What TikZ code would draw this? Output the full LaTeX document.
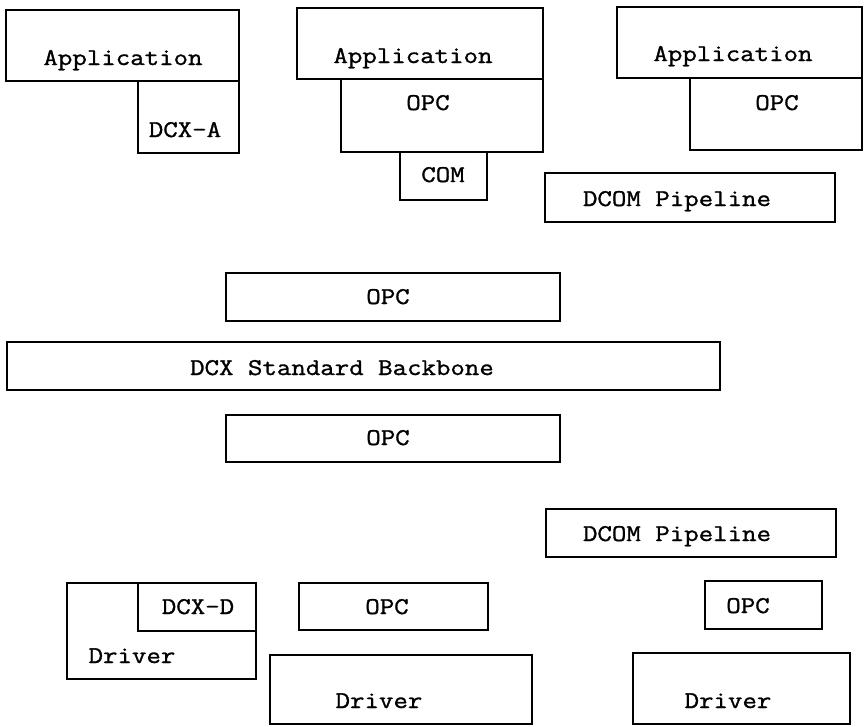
\documentclass[tikz,border=0pt]{standalone}
\usepackage{fontspec}
\newfontfamily\boxfont[FakeStretch=1.17, FakeBold=1.2]{Latin Modern Mono}
\tikzset{
  layer/.style={draw=black, line width=1.5pt, fill=none},
  lbl/.style={anchor=base, inner sep=0pt, text=black,
              font=\boxfont\fontsize{24}{28}\selectfont}
}
\begin{document}
\begin{tikzpicture}[x=1pt, y=-1pt]
  \useasboundingbox (0,0) rectangle (864,726);

  % client stack with DCX adapter
  \draw[layer] (6,10) rectangle (239,81);
  \draw[layer] (138,81) rectangle (239,153);
  \node[lbl] (app1) at (123,65) {Application};
  \node[lbl] (dcxa) at (185,137) {DCX-A};

  % local OPC client over COM
  \draw[layer] (297,8) rectangle (543,79);
  \draw[layer] (341,79) rectangle (543,152);
  \draw[layer] (400,152) rectangle (487,200);
  \node[lbl] (app2) at (413,63) {Application};
  \node[lbl] (opc2) at (428,110) {OPC};
  \node[lbl] (com) at (443,182) {COM};

  % remote OPC client over DCOM
  \draw[layer] (617,7) rectangle (862,78);
  \draw[layer] (690,78) rectangle (862,150);
  \draw[layer] (545,173) rectangle (835,222);
  \node[lbl] (app3) at (733,61) {Application};
  \node[lbl] (opc3) at (777,110) {OPC};
  \node[lbl] (dcom1) at (677,206) {DCOM Pipeline};

  % backbone with OPC interfaces
  \draw[layer] (226,273) rectangle (560,321);
  \draw[layer] (7,342) rectangle (720,390);
  \draw[layer] (226,415) rectangle (560,462);
  \node[lbl] (opctop) at (388,304) {OPC};
  \node[lbl] (backbone) at (342,375) {DCX Standard Backbone};
  \node[lbl] (opcbot) at (388,445) {OPC};

  % drivers
  \draw[layer] (546,509) rectangle (836,557);
  \node[lbl] (dcom2) at (677,541) {DCOM Pipeline};

  \draw[layer] (67,583) rectangle (256,679);
  \draw[layer] (138,583) rectangle (256,631);
  \node[lbl] (drv1) at (132,663) {Driver};
  \node[lbl] (dcxd) at (198,614) {DCX-D};

  \draw[layer] (299,583) rectangle (488,630);
  \draw[layer] (270,655) rectangle (532,724);
  \node[lbl] (opc4) at (387,614) {OPC};
  \node[lbl] (drv2) at (379,708) {Driver};

  \draw[layer] (705,581) rectangle (822,629);
  \draw[layer] (633,653) rectangle (850,724);
  \node[lbl] (opc5) at (748,613) {OPC};
  \node[lbl] (drv3) at (728,708) {Driver};
\end{tikzpicture}
\end{document}
